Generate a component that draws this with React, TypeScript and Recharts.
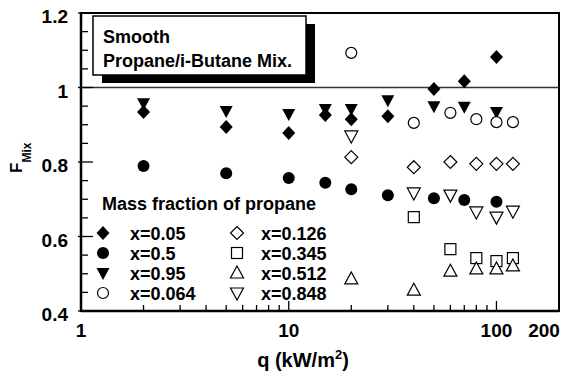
import React from 'react';
import { ScatterChart, Scatter, XAxis, YAxis, ReferenceLine, ReferenceArea } from 'recharts';

const FONT = '"Liberation Sans", Arial, Helvetica, sans-serif';

// heat flux q (kW/m2) and F_Mix
const qX005 = [2, 5, 10, 15, 20, 30, 50, 70, 100];
const fX005 = [0.934, 0.894, 0.878, 0.926, 0.915, 0.923, 0.996, 1.017, 1.082];
const qX05 = [2, 5, 10, 15, 20, 30, 50, 70, 100];
const fX05 = [0.789, 0.77, 0.757, 0.744, 0.727, 0.711, 0.703, 0.698, 0.693];
const qX095 = [2, 5, 10, 15, 20, 30, 50, 70, 100];
const fX095 = [0.958, 0.937, 0.929, 0.942, 0.942, 0.966, 0.95, 0.948, 0.934];
const qX0064 = [20, 40, 60, 80, 100, 120];
const fX0064 = [1.093, 0.905, 0.932, 0.915, 0.907, 0.907];
const qX0126 = [20, 40, 60, 80, 100, 120];
const fX0126 = [0.813, 0.786, 0.8, 0.795, 0.795, 0.795];
const qX0345 = [40, 60, 80, 100, 120];
const fX0345 = [0.652, 0.566, 0.542, 0.534, 0.542];
const qX0512 = [20, 40, 60, 80, 100, 120];
const fX0512 = [0.486, 0.456, 0.507, 0.513, 0.513, 0.521];
const qX0848 = [20, 40, 60, 80, 100, 120];
const fX0848 = [0.87, 0.717, 0.711, 0.666, 0.652, 0.668];

const xTicks = [1, 2, 3, 4, 5, 6, 7, 8, 9, 10, 20, 30, 40, 50, 60, 70, 80, 90, 100, 200];
const xLabels = [1, 10, 100, 200];
const yTicks = [0.4, 0.45, 0.5, 0.55, 0.6, 0.65, 0.7, 0.75, 0.8, 0.85, 0.9, 0.95, 1, 1.05, 1.1, 1.15, 1.2];
const yLabels = [0.4, 0.6, 0.8, 1, 1.2];

const zip = (q: number[], f: number[]) => q.map((v, i) => ({ q: v, f: f[i] }));

const series = [
  { name: 'x=0.05', kind: 'diamondFill', data: zip(qX005, fX005) },
  { name: 'x=0.5', kind: 'circleFill', data: zip(qX05, fX05) },
  { name: 'x=0.95', kind: 'triDownFill', data: zip(qX095, fX095) },
  { name: 'x=0.064', kind: 'circleOpen', data: zip(qX0064, fX0064) },
  { name: 'x=0.126', kind: 'diamondOpen', data: zip(qX0126, fX0126) },
  { name: 'x=0.345', kind: 'square', data: zip(qX0345, fX0345) },
  { name: 'x=0.512', kind: 'triUp', data: zip(qX0512, fX0512) },
  { name: 'x=0.848', kind: 'triDownOpen', data: zip(qX0848, fX0848) },
];

const Marker = ({ cx, cy, kind }: { cx: number; cy: number; kind: string }) => {
  const open = { fill: '#fff', stroke: '#000', strokeWidth: 1.2 };
  switch (kind) {
    case 'diamondFill':
      return <polygon points={`${cx},${cy - 7} ${cx + 6.5},${cy} ${cx},${cy + 7} ${cx - 6.5},${cy}`} fill="#000" />;
    case 'circleFill':
      return <circle cx={cx} cy={cy} r={6} fill="#000" />;
    case 'triDownFill':
      return <polygon points={`${cx - 6.5},${cy - 5} ${cx + 6.5},${cy - 5} ${cx},${cy + 7}`} fill="#000" />;
    case 'circleOpen':
      return <circle cx={cx} cy={cy} r={5.5} {...open} />;
    case 'diamondOpen':
      return <polygon points={`${cx},${cy - 6.5} ${cx + 6.5},${cy} ${cx},${cy + 6.5} ${cx - 6.5},${cy}`} {...open} />;
    case 'square':
      return <rect x={cx - 5.5} y={cy - 5.5} width={11} height={11} {...open} />;
    case 'triUp':
      return <polygon points={`${cx - 6.5},${cy + 5} ${cx + 6.5},${cy + 5} ${cx},${cy - 7}`} {...open} />;
    case 'triDownOpen':
      return <polygon points={`${cx - 6.5},${cy - 5} ${cx + 6.5},${cy - 5} ${cx},${cy + 7}`} {...open} />;
    default:
      return null;
  }
};

const XTick = (props: any) => {
  const { x, y, payload } = props;
  const v = payload.value;
  const major = v === 10 || v === 100;
  const hasLabel = xLabels.includes(v);
  return (
    <g>
      <line x1={x} x2={x} y1={y} y2={y - (major ? 10 : 6)} stroke="#000" strokeWidth={1.3} />
      {hasLabel && (
        <text x={v === 200 ? x - 15 : x} y={y + 26} textAnchor="middle" fontFamily={FONT} fontWeight="bold" fontSize={19} fill="#000">
          {v}
        </text>
      )}
    </g>
  );
};

const YTick = (props: any) => {
  const { x, y, payload } = props;
  const v = payload.value;
  const major = yLabels.some((m) => Math.abs(m - v) < 1e-6);
  return (
    <g>
      <line x1={major ? x - 3 : x} x2={x + (major ? 12 : 7)} y1={y} y2={y} stroke="#000" strokeWidth={1.3} />
      {major && (
        <text x={x - 13} y={y + 10} textAnchor="end" fontFamily={FONT} fontWeight="bold" fontSize={19} fill="#000">
          {String(v)}
        </text>
      )}
    </g>
  );
};

const legendLeft = series.slice(0, 4);
const legendRight = series.slice(4);

export default function App() {
  return (
    <div style={{ position: 'absolute', left: 0, top: 0, width: 561, height: 374, background: '#fff' }}>
      <ScatterChart width={561} height={374} margin={{ top: 13, right: 2, bottom: 23, left: 0 }}>
        <XAxis
          dataKey="q"
          type="number"
          scale="log"
          domain={[1, 200]}
          ticks={xTicks}
          interval={0}
          allowDataOverflow
          height={40}
          tickSize={0}
          tickMargin={0}
          tickLine={false}
          tick={<XTick />}
          axisLine={{ stroke: '#000', strokeWidth: 2.5 }}
        />
        <YAxis
          dataKey="f"
          type="number"
          domain={[0.4, 1.2]}
          ticks={yTicks}
          interval={0}
          allowDataOverflow
          width={81}
          tickSize={0}
          tickMargin={0}
          tickLine={false}
          tick={<YTick />}
          axisLine={{ stroke: '#000', strokeWidth: 2.5 }}
        />
        <ReferenceArea x1={1} x2={200} y1={0.4} y2={1.2} fill="none" stroke="#000" strokeWidth={2} ifOverflow="visible" />
        <ReferenceLine y={1} stroke="#333" strokeWidth={1.5} />
        {series.map((s) => (
          <Scatter
            key={s.name}
            name={s.name}
            data={s.data}
            isAnimationActive={false}
            shape={(p: any) => <Marker cx={p.cx} cy={p.cy} kind={s.kind} />}
          />
        ))}
      </ScatterChart>
      <svg width={561} height={374} style={{ position: 'absolute', left: 0, top: 0, pointerEvents: 'none' }}>
        <g fontFamily={FONT} fontWeight="bold" fill="#000">
          <text x={22} y={173} transform="rotate(-90, 22, 173)" fontSize={17}>
            F<tspan fontSize={12} dy={9}>Mix</tspan>
          </text>
          <text x={303} y={367} textAnchor="middle" fontSize={20}>
            q (kW/m<tspan fontSize={13} dy={-8}>2</tspan>
            <tspan dy={8}>)</tspan>
          </text>
          <rect x={102} y={24} width={213} height={59} fill="#000" />
          <rect x={93} y={16} width={213} height={59} fill="#fff" stroke="#000" strokeWidth={1.5} />
          <text x={103} y={43} fontSize={18}>Smooth</text>
          <text x={103} y={67} fontSize={18}>Propane/i-Butane Mix.</text>
          <text x={102} y={210} fontSize={18}>Mass fraction of propane</text>
          {legendLeft.map((s, i) => (
            <g key={s.name}>
              <Marker cx={103} cy={233 + i * 20} kind={s.kind} />
              <text x={130} y={240 + i * 20} fontSize={18}>{s.name}</text>
            </g>
          ))}
          {legendRight.map((s, i) => (
            <g key={s.name}>
              <Marker cx={237} cy={233 + i * 20} kind={s.kind} />
              <text x={261} y={240 + i * 20} fontSize={18}>{s.name}</text>
            </g>
          ))}
        </g>
      </svg>
    </div>
  );
}
